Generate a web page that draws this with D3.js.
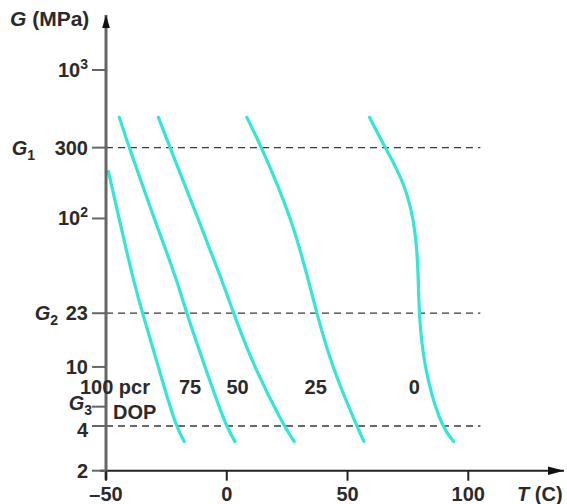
<!DOCTYPE html>
<html>
<head>
<meta charset="utf-8">
<script src="https://cdn.jsdelivr.net/npm/d3@7"></script>
<style>
  body { margin: 0; background: #fff; }
  svg text { font-family: "Liberation Sans", Arial, sans-serif; font-weight: bold; fill: #2a2a2a; }
</style>
</head>
<body>
<svg id="chart" width="567" height="504"></svg>
<script>
let curveColor = "#33e6d6";
let axisGray = "#666";
let dashColor = "#3a3a3a";

// curves, [T (C), G (MPa)]
const curve100 = [[-49.0, 207], [-44.6, 100], [-38.7, 38.5], [-34.7, 22.5], [-28.3, 10], [-21.4, 4.1], [-17.6, 3.15]];
const curve75 = [[-44.5, 480], [-40.4, 300], [-30.1, 100], [-20.6, 38.5], [-16.5, 22.5], [-9.0, 10], [-0.7, 4.1], [3.4, 3.15]];
const curve50 = [[-28.3, 480], [-23.5, 300], [-11.9, 100], [-2.0, 38.5], [3.0, 22.5], [11.3, 10], [23.3, 4.1], [27.9, 3.15]];
const curve25 = [[8.3, 480], [14.5, 300], [26.9, 100], [33.8, 38.5], [37.4, 22.5], [43.6, 10], [53.5, 4.1], [56.8, 3.15]];
const curve0 = [[59.1, 480], [65.6, 300], [73.8, 173], [78.4, 84], [79.4, 37], [79.6, 22.5], [81.6, 10], [88.3, 4.1], [93.9, 3.15]];

const curveLabels = ["100 pcr", "75", "50", "25", "0"];
const labelT = [-46.3, -15.2, 4.5, 36.8, 77.6];

const xTicks = [-50, 0, 50, 100];
const yTicks = [1000, 300, 100, 23, 10, 5.4, 4, 2];
const refLines = [300, 23, 4];

const svg = d3.select("#chart");

const xScale = d3.scaleLinear().domain([-50, 100]).range([106, 468.3]);
const yScale = d3.scaleLog().domain([2, 1000]).range([470.7, 70]);

// dashed reference lines
svg.selectAll(".ref")
  .data(refLines)
  .enter()
  .append("line")
  .attr("x1", xScale(-50))
  .attr("x2", xScale(105))
  .attr("y1", d => yScale(d))
  .attr("y2", d => yScale(d))
  .attr("stroke", dashColor)
  .attr("stroke-width", 1.3)
  .attr("stroke-dasharray", "7,5");

// curves
const line = d3.line()
  .x(d => xScale(d[0]))
  .y(d => yScale(d[1]))
  .curve(d3.curveBasis);

svg.selectAll(".curve")
  .data([curve100, curve75, curve50, curve25, curve0])
  .enter()
  .append("path")
  .attr("d", line)
  .attr("fill", "none")
  .attr("stroke", curveColor)
  .attr("stroke-width", 3.2)
  .attr("stroke-linecap", "round");

// axes
const defs = svg.append("defs");
defs.append("marker")
  .attr("id", "arrowX")
  .attr("viewBox", "0 0 10 10")
  .attr("refX", 10).attr("refY", 5)
  .attr("markerWidth", 16).attr("markerHeight", 12)
  .attr("markerUnits", "userSpaceOnUse")
  .attr("orient", "auto")
  .attr("preserveAspectRatio", "none")
  .append("path").attr("d", "M0,1.5L10,5L0,8.5Z").attr("fill", "#111");

defs.append("marker")
  .attr("id", "arrowY")
  .attr("viewBox", "0 0 10 10")
  .attr("refX", 10).attr("refY", 5)
  .attr("markerWidth", 13).attr("markerHeight", 11)
  .attr("markerUnits", "userSpaceOnUse")
  .attr("orient", "auto")
  .attr("preserveAspectRatio", "none")
  .append("path").attr("d", "M0,1.5L10,5L0,8.5Z").attr("fill", "#111");

svg.append("line")
  .attr("x1", 100).attr("x2", 564)
  .attr("y1", yScale(2)).attr("y2", yScale(2))
  .attr("stroke", "#222").attr("stroke-width", 2)
  .attr("marker-end", "url(#arrowX)");

svg.append("line")
  .attr("x1", xScale(-50)).attr("x2", xScale(-50))
  .attr("y1", yScale(2) + 9).attr("y2", 15)
  .attr("stroke", axisGray).attr("stroke-width", 3)
  .attr("marker-end", "url(#arrowY)");

// x ticks
const xAxis = svg.append("g").attr("class", "xaxis");
xAxis.selectAll("line")
  .data(xTicks)
  .enter()
  .append("line")
  .attr("x1", d => xScale(d)).attr("x2", d => xScale(d))
  .attr("y1", yScale(2)).attr("y2", yScale(2) + 10)
  .attr("stroke", "#222").attr("stroke-width", 2);

xAxis.selectAll("text")
  .data(xTicks)
  .enter()
  .append("text")
  .attr("x", d => xScale(d))
  .attr("y", 501)
  .attr("text-anchor", "middle")
  .style("font-size", "20px")
  .text(d => d < 0 ? "\u2013" + Math.abs(d) : d);

const xTitle = svg.append("text")
  .attr("x", 517).attr("y", 501)
  .style("font-size", "20px");
xTitle.append("tspan").style("font-style", "italic").text("T");
xTitle.append("tspan").text(" (C)");

// y ticks
const yAxis = svg.append("g").attr("class", "yaxis");
yAxis.selectAll("line")
  .data(yTicks)
  .enter()
  .append("line")
  .attr("x1", xScale(-50) - 14)
  .attr("x2", d => refLines.includes(d) ? xScale(-50) + 2 : xScale(-50))
  .attr("y1", d => yScale(d)).attr("y2", d => yScale(d))
  .attr("stroke", axisGray).attr("stroke-width", 2);

// plain numbers
yAxis.selectAll(".ylab")
  .data([300, 23, 10, 4, 2])
  .enter()
  .append("text")
  .attr("x", 88)
  .attr("y", d => yScale(d) + (d === 4 ? 11 : 7))
  .attr("text-anchor", "end")
  .style("font-size", "20px")
  .text(d => d);

// powers of ten
[[1000, "3"], [100, "2"]].forEach(([v, p]) => {
  const t = yAxis.append("text")
    .attr("x", 88)
    .attr("y", yScale(v) + 7)
    .attr("text-anchor", "end")
    .style("font-size", "20px");
  t.append("tspan").text("10");
  t.append("tspan").attr("dy", -8).style("font-size", "14px").text(p);
});

// G1, G2, G3 names
[[300, "1", 35, 7], [23, "2", 58, 7], [5.4, "3", 92, 3]].forEach(([v, s, xr, dy]) => {
  const t = yAxis.append("text")
    .attr("x", xr)
    .attr("y", yScale(v) + dy)
    .attr("text-anchor", "end")
    .style("font-size", "20px");
  t.append("tspan").style("font-style", "italic").text("G");
  t.append("tspan").attr("dy", 5).style("font-size", "14px").text(s);
});

const yTitle = svg.append("text")
  .attr("x", 10).attr("y", 26)
  .style("font-size", "21px");
yTitle.append("tspan").style("font-style", "italic").text("G");
yTitle.append("tspan").text(" (MPa)");

// curve labels
svg.selectAll(".clabel")
  .data(curveLabels)
  .enter()
  .append("text")
  .attr("x", (d, i) => xScale(labelT[i]))
  .attr("y", 394)
  .attr("text-anchor", "middle")
  .style("font-size", "20px")
  .text(d => d);

svg.append("text")
  .attr("x", 113).attr("y", 419)
  .style("font-size", "20px")
  .text("DOP");
</script>
</body>
</html>
